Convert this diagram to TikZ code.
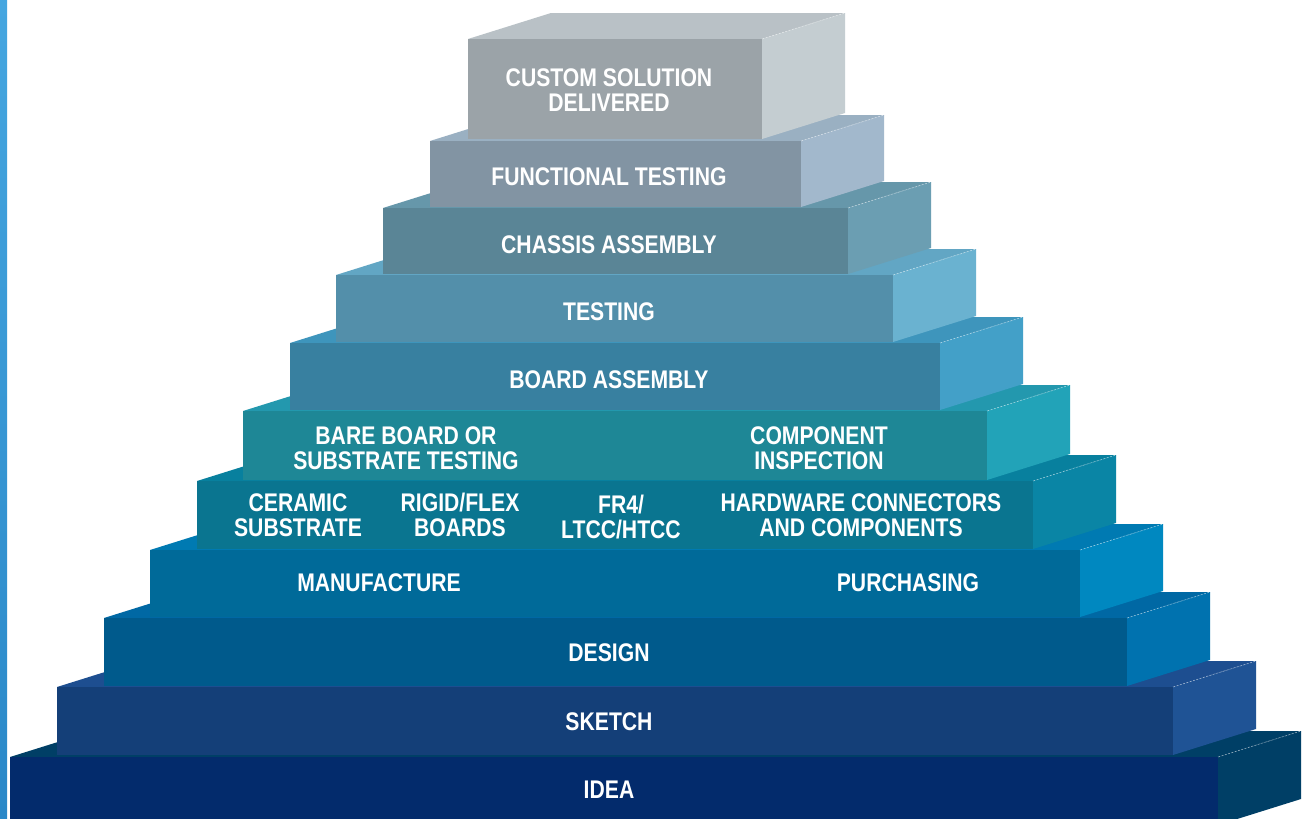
\documentclass[tikz,border=0pt]{standalone}
\usepackage{fontspec}
\newfontfamily\lblfont{Liberation Sans}[FakeStretch=0.83]
\definecolor{stripA}{HTML}{45A6E0}
\definecolor{stripB}{HTML}{2A88C8}
\definecolor{fA}{HTML}{032B6C}\definecolor{tA}{HTML}{003F66}\definecolor{sA}{HTML}{003F66}
\definecolor{fB}{HTML}{143F78}\definecolor{tB}{HTML}{1D4E90}\definecolor{sB}{HTML}{1F5395}
\definecolor{fC}{HTML}{005A8C}\definecolor{tC}{HTML}{0068A4}\definecolor{sC}{HTML}{0072AF}
\definecolor{fD}{HTML}{006A99}\definecolor{tD}{HTML}{007AB2}\definecolor{sD}{HTML}{0088C0}
\definecolor{fE}{HTML}{0A7590}\definecolor{tE}{HTML}{08809E}\definecolor{sE}{HTML}{0A85A5}
\definecolor{fF}{HTML}{1E8796}\definecolor{tF}{HTML}{2398AE}\definecolor{sF}{HTML}{22A3B8}
\definecolor{fG}{HTML}{3880A0}\definecolor{tG}{HTML}{3E95BC}\definecolor{sG}{HTML}{43A0C8}
\definecolor{fH}{HTML}{538FAA}\definecolor{tH}{HTML}{62A6C4}\definecolor{sH}{HTML}{6AB2D0}
\definecolor{fI}{HTML}{5A8596}\definecolor{tI}{HTML}{6697AA}\definecolor{sI}{HTML}{6B9EB2}
\definecolor{fJ}{HTML}{8294A3}\definecolor{tJ}{HTML}{9AB0C2}\definecolor{sJ}{HTML}{A2B8CC}
\definecolor{fK}{HTML}{9BA3A8}\definecolor{tK}{HTML}{B9C1C6}\definecolor{sK}{HTML}{C4CDD1}
\newcommand{\blk}[5]{%
  \fill[t#5] (#1,#2) -- (#1+83,#2-26) -- (#3+83,#2-26) -- (#3,#2) -- cycle;
  \fill[s#5] (#3,#2) -- (#3+83,#2-26) -- (#3+83,#4-26) -- (#3,#4) -- cycle;
  \fill[f#5] (#1,#2) rectangle (#3,#4);
  \draw[white,opacity=.45,line width=.6pt,dash pattern=on 2pt off 1.5pt] (#3,#2) -- (#3+83,#2-26);
}
\begin{document}
\begin{tikzpicture}[x=1pt,y=-1pt,
  lbl/.style={text=white,font=\lblfont\bfseries\fontsize{25.5}{24.5}\selectfont,align=center,inner sep=0pt}]
\useasboundingbox (0,0) rectangle (1307,819);
\clip (0,0) rectangle (1307,819);
\fill[white] (0,0) rectangle (1307,819);
\shade[top color=stripA,bottom color=stripB] (0,0) rectangle (7,819);
% blocks bottom to top
\blk{10}{757}{1218}{825}{A}
\blk{57}{687}{1173}{755}{B}
\blk{104}{618}{1127}{686}{C}
\blk{150}{550}{1080}{617}{D}
\blk{197}{481}{1033}{549}{E}
\blk{243}{411}{987}{480}{F}
\blk{290}{343}{940}{410}{G}
\blk{336}{275}{893}{342}{H}
\blk{383}{208}{848}{274}{I}
\blk{430}{141}{801}{207}{J}
\blk{468}{39}{762}{139}{K}
% labels
\node[lbl] (custom) at (609,90) {CUSTOM SOLUTION\\DELIVERED};
\node[lbl] (functional) at (609,177) {FUNCTIONAL TESTING};
\node[lbl] (chassis) at (609,245) {CHASSIS ASSEMBLY};
\node[lbl] (testing) at (609,312) {TESTING};
\node[lbl] (boardassy) at (609,380) {BOARD ASSEMBLY};
\node[lbl] (bare) at (406,448) {BARE BOARD OR\\SUBSTRATE TESTING};
\node[lbl] (component) at (819,448) {COMPONENT\\INSPECTION};
\node[lbl] (ceramic) at (298,515) {CERAMIC\\SUBSTRATE};
\node[lbl] (rigid) at (460,515) {RIGID/FLEX\\BOARDS};
\node[lbl] (fr4) at (621,517) {FR4/\\LTCC/HTCC};
\node[lbl] (hardware) at (861,515) {HARDWARE CONNECTORS\\AND COMPONENTS};
\node[lbl] (manufacture) at (379,583) {MANUFACTURE};
\node[lbl] (purchasing) at (908,583) {PURCHASING};
\node[lbl] (design) at (609,653) {DESIGN};
\node[lbl] (sketch) at (609,722) {SKETCH};
\node[lbl] (idea) at (609,790) {IDEA};
\end{tikzpicture}
\end{document}
